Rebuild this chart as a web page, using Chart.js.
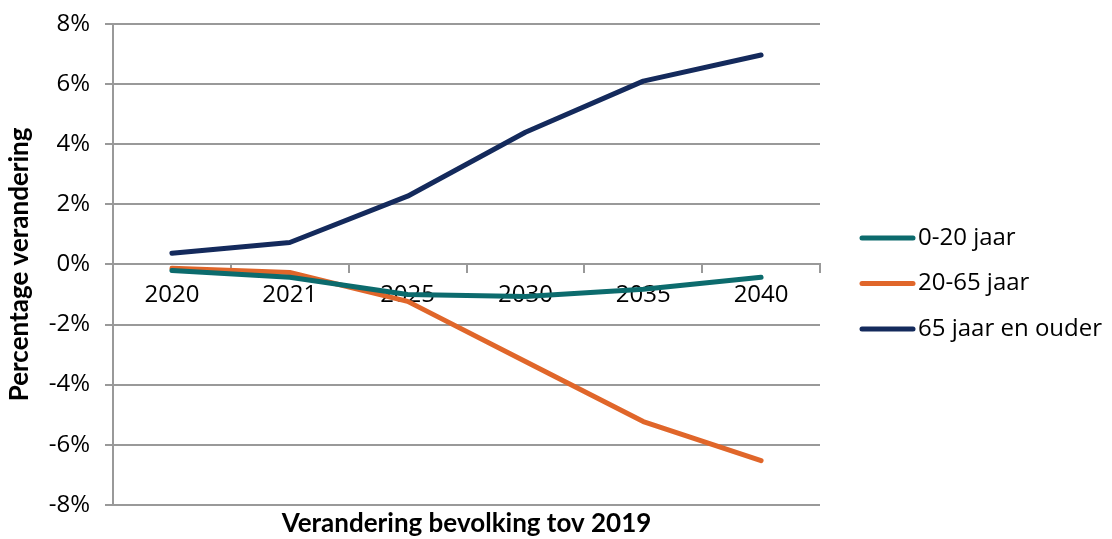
<!DOCTYPE html>
<html>
<head>
<meta charset="utf-8">
<script src="https://cdn.jsdelivr.net/npm/chart.js@4"></script>
<style>
  html, body { margin: 0; padding: 0; background: #fff; }
  #wrap { width: 1112px; height: 539px; position: relative; }
</style>
</head>
<body>
<div id="wrap"><canvas id="chart"></canvas></div>
<script>
// data
const years = ['2020', '2021', '2025', '2030', '2035', '2040'];
const jong = [-0.2, -0.43, -1.0, -1.07, -0.83, -0.43];
const werkend = [-0.13, -0.27, -1.23, -3.23, -5.23, -6.53];
const ouderen = [0.37, 0.73, 2.27, 4.4, 6.1, 6.97];
const seriesNames = ['0-20 jaar', '20-65 jaar', '65 jaar en ouder'];
const seriesColors = ['#0c6b6d', '#e0662a', '#142a5c'];

const tickFont = { family: 'Open Sans', size: 24 };
const titleFont = { family: 'Lato', size: 26, weight: 'bold' };

// legend drawn next to the plot
const sideLegend = {
    id: 'sideLegend',
    afterDraw(chart) {
        const c = chart.ctx;
        const area = chart.chartArea;
        const x0 = area.right + 40;
        const midY = (area.top + area.bottom) / 2 + 19;
        c.save();
        c.font = '24px "Open Sans"';
        c.textBaseline = 'middle';
        chart.data.datasets.forEach((ds, i) => {
            const y = midY + (i - 1) * 45.5;
            c.strokeStyle = ds.borderColor;
            c.lineWidth = 5;
            c.lineCap = 'round';
            c.beginPath();
            c.moveTo(x0 + 2, y);
            c.lineTo(x0 + 53, y);
            c.stroke();
            c.fillStyle = '#000';
            c.fillText(ds.label, x0 + 58, y);
        });
        c.restore();
    }
};

const ctx = document.getElementById('chart').getContext('2d');
new Chart(ctx, {
    type: 'line',
    data: {
        labels: years,
        datasets: [
            { label: seriesNames[0], data: jong, borderColor: seriesColors[0], backgroundColor: seriesColors[0] },
            { label: seriesNames[1], data: werkend, borderColor: seriesColors[1], backgroundColor: seriesColors[1] },
            { label: seriesNames[2], data: ouderen, borderColor: seriesColors[2], backgroundColor: seriesColors[2] }
        ]
    },
    options: {
        responsive: true,
        maintainAspectRatio: false,
        animation: false,
        elements: {
            line: { borderWidth: 5, tension: 0, borderCapStyle: 'round', borderJoinStyle: 'round' },
            point: { radius: 0 }
        },
        layout: { padding: { top: 0, right: 292, left: 0, bottom: 0 } },
        scales: {
            x: {
                position: { y: 0 },
                offset: true,
                grid: { drawOnChartArea: false, offset: true, color: '#999', lineWidth: 2, tickLength: 8 },
                border: { color: '#999', width: 2 },
                ticks: { font: tickFont, color: '#000', padding: 8, maxRotation: 0 }
            },
            y: {
                min: -8,
                max: 8,
                ticks: {
                    stepSize: 2,
                    font: tickFont,
                    color: '#000',
                    padding: 15,
                    callback: v => v + '%'
                },
                grid: { color: '#999', lineWidth: 2, tickLength: 8 },
                border: { color: '#999', width: 2 },
                title: { display: true, text: 'Percentage verandering', font: titleFont, color: '#000', padding: { top: 4, bottom: 0 } },
                afterFit: scale => {
                    scale.width = 113;
                    scale.paddingTop = 24;
                    scale.paddingBottom = 0;
                }
            }
        },
        plugins: {
            legend: { display: false },
            tooltip: { enabled: false },
            title: {
                display: true,
                position: 'bottom',
                fullSize: false,
                text: 'Verandering bevolking tov 2019',
                font: titleFont,
                color: '#000',
                padding: { top: 3, bottom: 0 }
            }
        }
    },
    plugins: [sideLegend]
});
</script>
</body>
</html>
